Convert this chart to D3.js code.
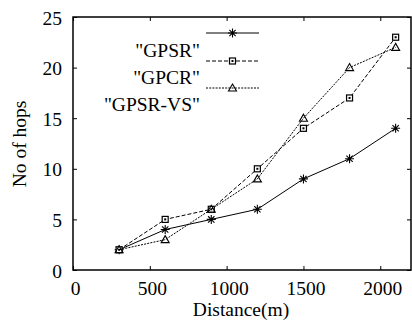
<!DOCTYPE html>
<html><head><meta charset="utf-8">
<script src="https://cdn.jsdelivr.net/npm/d3@7"></script>
<style>body{margin:0;background:#fff}svg{display:block}</style>
</head><body>
<script>
const distances = [300, 600, 900, 1200, 1500, 1800, 2100];
const gpsr = [2, 4, 5, 6, 9, 11, 14];
const gpcr = [2, 5, 6, 10, 14, 17, 23];
const gpsrvs = [2, 3, 6, 9, 15, 20, 22];
const seriesNames = ['"GPSR"', '"GPCR"', '"GPSR-VS"'];
const xTicks = [0, 500, 1000, 1500, 2000];
const yTicks = [0, 5, 10, 15, 20, 25];

const W = 412, H = 327;
const m = {l: 73, r: 1, t: 17, b: 57};
const FONT = "Liberation Serif";
const fs = 19.5;
const svg = d3.select("body").append("svg").attr("width", W).attr("height", H);
const x = d3.scaleLinear().domain([0, 2200]).range([m.l, W - m.r]);
const y = d3.scaleLinear().domain([0, 25]).range([H - m.b, m.t]);

// axes
const gx = svg.append("g").attr("transform", `translate(0,${H - m.b})`)
  .call(d3.axisBottom(x).tickValues(xTicks).tickSize(-4).tickPadding(0).tickFormat(d3.format("d")));
const gxt = svg.append("g").attr("transform", `translate(0,${m.t})`)
  .call(d3.axisTop(x).tickValues(xTicks).tickSize(-4).tickFormat(""));
const gy = svg.append("g").attr("transform", `translate(${m.l},0)`)
  .call(d3.axisLeft(y).tickValues(yTicks).tickSize(-4).tickPadding(0));
const gyr = svg.append("g").attr("transform", `translate(${W - m.r},0)`)
  .call(d3.axisRight(y).tickValues(yTicks).tickSize(-4).tickFormat(""));
[gx, gxt, gy, gyr].forEach(g => {
  g.attr("font-family", FONT).attr("font-size", fs);
  g.select(".domain").remove();
  g.selectAll("line").attr("stroke", "#000");
  g.selectAll("text").style("font-family", FONT).style("font-size", fs + "px").attr("fill", "#000");
});
gx.selectAll("text").attr("y", 25).attr("dy", null).attr("dx", 2);
gy.selectAll("text").attr("x", -11).attr("dy", "0.36em");
// frame
svg.append("rect").attr("x", m.l).attr("y", m.t).attr("width", W - m.r - m.l).attr("height", H - m.b - m.t)
  .attr("fill", "none").attr("stroke", "#000").attr("stroke-width", 1.5);

// labels
svg.append("text").attr("x", 241).attr("y", 316).attr("text-anchor", "middle")
  .style("font-family", FONT).style("font-size", fs + "px").text("Distance(m)");
svg.append("text").attr("transform", `translate(26,144) rotate(-90)`)
  .attr("text-anchor", "middle").style("font-family", FONT).style("font-size", fs + "px").text("No of hops");

const data = [gpsr, gpcr, gpsrvs];
const dashes = [null, "4,2", "2,1.2"];
const line = d3.line().x((d, i) => x(distances[i])).y(d => y(d));

function marker(g, k, cx, cy) {
  if (k === 0) {
    const s = 4.5;
    g.append("path").attr("d",
      `M${cx - s},${cy}H${cx + s}M${cx},${cy - s}V${cy + s}M${cx - s * 0.7},${cy - s * 0.7}L${cx + s * 0.7},${cy + s * 0.7}M${cx - s * 0.7},${cy + s * 0.7}L${cx + s * 0.7},${cy - s * 0.7}`)
      .attr("stroke", "#000").attr("stroke-width", 1.1).attr("fill", "none");
  } else if (k === 1) {
    g.append("rect").attr("x", cx - 3).attr("y", cy - 3).attr("width", 6).attr("height", 6)
      .attr("fill", "#fff").attr("stroke", "#000").attr("stroke-width", 1.2);
    g.append("rect").attr("x", cx - 1).attr("y", cy - 1).attr("width", 2).attr("height", 2).attr("fill", "#000");
  } else {
    const s = 4;
    g.append("path").attr("d", `M${cx},${cy - s}L${cx + s},${cy + s * 0.75}L${cx - s},${cy + s * 0.75}Z`)
      .attr("fill", "none").attr("stroke", "#000").attr("stroke-width", 1.1);
  }
}

data.forEach((vals, k) => {
  const g = svg.append("g");
  g.append("path").datum(vals).attr("d", line).attr("fill", "none").attr("stroke", "#000")
    .attr("stroke-width", 1).attr("stroke-dasharray", dashes[k]);
  vals.forEach((v, i) => marker(g, k, x(distances[i]), y(v)));
});

// legend
const legY = [33, 61, 88];
const legTextY = [57, 84, 111];
data.forEach((vals, k) => {
  const g = svg.append("g");
  g.append("line").attr("x1", 206).attr("x2", 259).attr("y1", legY[k]).attr("y2", legY[k])
    .attr("stroke", "#000").attr("stroke-width", 1).attr("stroke-dasharray", dashes[k]);
  marker(g, k, 232.5, legY[k]);
  g.append("text").attr("x", 200).attr("y", legTextY[k]).attr("text-anchor", "end")
    .style("font-family", FONT).style("font-size", fs + "px").text(seriesNames[k]);
});
</script>
</body></html>
